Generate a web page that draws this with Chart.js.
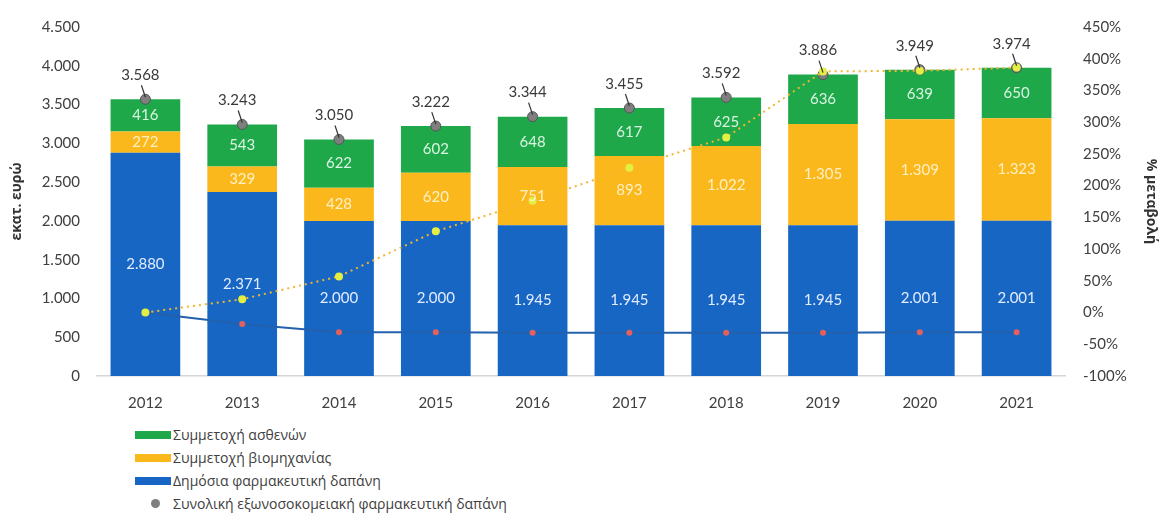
<!DOCTYPE html>
<html lang="el">
<head>
<meta charset="UTF-8">
<title>Εξωνοσοκομειακή φαρμακευτική δαπάνη 2012-2021</title>
<script src="https://cdn.jsdelivr.net/npm/chart.js"></script>
<style>
    body { margin: 0; background: #fff; font-family: Lato, "Open Sans", sans-serif; }
    .chart-container { position: relative; width: 1160px; height: 416px; }
    #legenda { position: absolute; left: 135px; top: 423px; margin: 0; padding: 0; list-style: none; }
    #legenda li { height: 23px; display: flex; align-items: center; font: 14px "Open Sans", sans-serif; color: #404040; }
    #legenda .box { width: 36px; height: 8px; margin-right: 2px; }
    #legenda .dot { width: 9px; height: 9px; border-radius: 50%; margin: 0 13px 0 16px; }
</style>
</head>
<body>
<div class="chart-container">
    <canvas id="grafima"></canvas>
</div>
<ul id="legenda"></ul>

<script>
    // έτη
    const eti = ['2012', '2013', '2014', '2015', '2016', '2017', '2018', '2019', '2020', '2021'];
    // εκατ. ευρώ
    const dimosia = [2880, 2371, 2000, 2000, 1945, 1945, 1945, 1945, 2001, 2001];
    const viomichania = [272, 329, 428, 620, 751, 893, 1022, 1305, 1309, 1323];
    const asthenis = [416, 543, 622, 602, 648, 617, 625, 636, 639, 650];
    const synoliki = [3568, 3243, 3050, 3222, 3344, 3455, 3592, 3886, 3949, 3974];
    // % μεταβολή σε σχέση με το 2012
    const metavoliDimosias = [0, -18, -31, -31, -32, -32, -32, -32, -31, -31];
    const metavoliViomichanias = [0, 21, 57, 128, 176, 228, 276, 380, 381, 386];

    const fmt = v => String(v).replace(/\B(?=(\d{3})+(?!\d))/g, '.');
    const GRAMMATA = 'Lato, "Open Sans", sans-serif';
    const ELLINIKA = '"Open Sans", sans-serif';

    // ετικέτες τιμών μέσα στις μπάρες και πάνω από τη συνολική δαπάνη
    const etiketes = {
        id: 'etiketes',
        afterDatasetsDraw(chart) {
            const ctx = chart.ctx;
            ctx.save();
            ctx.font = '15px ' + GRAMMATA;
            ctx.textAlign = 'center';
            ctx.textBaseline = 'middle';
            chart.data.datasets.forEach((ds, i) => {
                if (!ds.labelColor) return;
                chart.getDatasetMeta(i).data.forEach((bar, j) => {
                    ctx.fillStyle = ds.labelColor;
                    ctx.fillText(fmt(ds.data[j]), bar.x, (bar.y + bar.base) / 2);
                });
            });
            const idx = chart.data.datasets.findIndex(d => d.id === 'synoliki');
            chart.getDatasetMeta(idx).data.forEach((pt, j) => {
                const lx = pt.x - 5, ly = pt.y - 24;
                ctx.strokeStyle = '#333';
                ctx.lineWidth = 1.2;
                ctx.beginPath();
                ctx.moveTo(lx + 1, ly + 10);
                ctx.lineTo(pt.x, pt.y - 2);
                ctx.stroke();
                ctx.fillStyle = '#3a3a3a';
                ctx.fillText(fmt(synoliki[j]), lx, ly);
            });
            ctx.restore();
        }
    };

    const grafima = new Chart(document.getElementById('grafima'), {
        data: {
            labels: eti,
            datasets: [
                { type: 'bar', label: 'Δημόσια φαρμακευτική δαπάνη', data: dimosia, backgroundColor: '#1766c4', labelColor: '#e2ecff', order: 5, yAxisID: 'y' },
                { type: 'bar', label: 'Συμμετοχή βιομηχανίας', data: viomichania, backgroundColor: '#fbb81c', labelColor: '#fff0c4', order: 5, yAxisID: 'y' },
                { type: 'bar', label: 'Συμμετοχή ασθενών', data: asthenis, backgroundColor: '#1fa84a', labelColor: '#d9f4e1', order: 5, yAxisID: 'y' },
                {
                    type: 'line', label: 'μεταβολή δημόσιας', data: metavoliDimosias, yAxisID: 'y2', order: 4,
                    borderColor: '#2360ad', borderWidth: 2, pointRadius: 3, pointBackgroundColor: '#e5605c',
                    pointBorderWidth: 0
                },
                {
                    type: 'line', id: 'synoliki', label: 'Συνολική εξωνοσοκομειακή φαρμακευτική δαπάνη', data: synoliki,
                    yAxisID: 'yt', order: 3, showLine: false, pointRadius: 5, pointBackgroundColor: '#7f7f7f',
                    pointBorderColor: '#555', pointBorderWidth: 1, backgroundColor: '#7f7f7f'
                },
                {
                    type: 'line', label: 'μεταβολή βιομηχανίας', data: metavoliViomichanias, yAxisID: 'y2', order: 2,
                    borderColor: '#f3b52c', borderWidth: 2, borderDash: [2, 4], pointRadius: 4,
                    pointBackgroundColor: '#e4ef44', pointBorderWidth: 0
                }
            ]
        },
        options: {
            responsive: true,
            maintainAspectRatio: false,
            animation: false,
            layout: { padding: { top: 26, left: 0, right: 0, bottom: 0 } },
            plugins: { legend: { display: false }, tooltip: { enabled: false } },
            scales: {
                x: {
                    stacked: true,
                    grid: { display: false, drawTicks: false },
                    border: { color: '#d6d6d6', width: 1.5 },
                    ticks: { color: '#404040', font: { size: 15, family: GRAMMATA }, padding: 18 },
                    barPercentage: 0.64,
                    categoryPercentage: 1,
                    afterFit: s => { s.height = 40; }
                },
                y: {
                    stacked: true, position: 'left', min: 0, max: 4500,
                    grid: { display: false, drawTicks: false },
                    border: { display: false },
                    ticks: { stepSize: 500, color: '#404040', font: { size: 15, family: GRAMMATA }, padding: 17, callback: v => fmt(v) },
                    title: { display: true, text: 'εκατ. ευρώ', color: '#333', font: { size: 14, weight: 'bold', family: ELLINIKA }, padding: { top: 9, bottom: 0 } },
                    afterFit: s => { s.width = 97; }
                },
                y2: {
                    position: 'right', min: -100, max: 450,
                    grid: { display: false, drawTicks: false },
                    border: { display: false },
                    ticks: { stepSize: 50, color: '#404040', font: { size: 15, family: GRAMMATA }, padding: 18, callback: v => v + '%' },
                    title: { display: true, text: '% μεταβολή', color: '#333', font: { size: 14, weight: 'bold', family: ELLINIKA }, padding: { top: 1, bottom: 0 } },
                    afterFit: s => { s.width = 95; }
                },
                yt: { display: false, min: 0, max: 4500 }
            }
        },
        plugins: [etiketes]
    });

    // υπόμνημα: ασθενών, βιομηχανίας, δημόσια, συνολική
    const legenda = document.getElementById('legenda');
    [2, 1, 0, 4].forEach(i => {
        const ds = grafima.data.datasets[i];
        const li = document.createElement('li');
        const sima = document.createElement('span');
        sima.className = ds.type === 'bar' ? 'box' : 'dot';
        sima.style.background = ds.backgroundColor;
        li.appendChild(sima);
        li.appendChild(document.createTextNode(ds.label));
        legenda.appendChild(li);
    });
</script>
</body>
</html>
